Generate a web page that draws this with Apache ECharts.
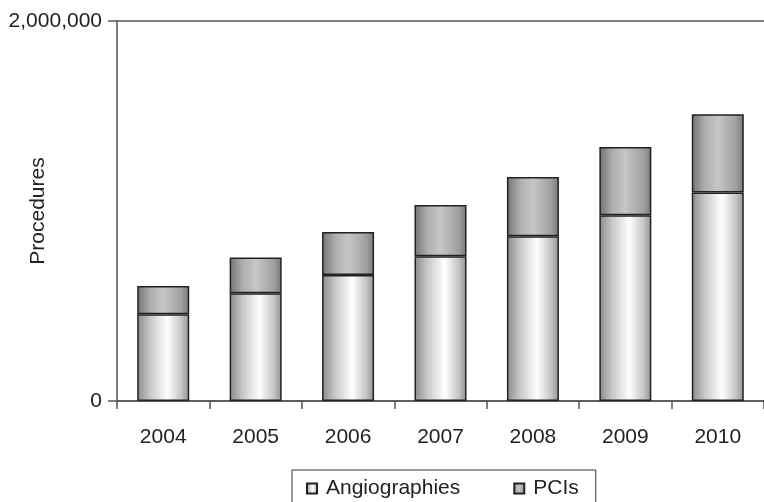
<!DOCTYPE html>
<html>
<head>
<meta charset="utf-8">
<script src="https://cdn.jsdelivr.net/npm/echarts@6/dist/echarts.min.js"></script>
<style>html,body{margin:0;padding:0;background:#fff}#c{width:764px;height:502px}</style>
</head>
<body>
<div id="c"></div>
<script>
const years = ['2004','2005','2006','2007','2008','2009','2010'];
const angiographies = [456000, 567000, 663000, 762000, 867000, 977000, 1098000];
const pcis = [149000, 188000, 226000, 270000, 312000, 360000, 411000];
const yTicks = [0, 2000000];

const font = 'Liberation Sans, Arial, Helvetica, sans-serif';
const angioGrad = {type:'linear',x:0,y:0,x2:1,y2:0,colorStops:[
  {offset:0,color:'#8a8a8a'},{offset:0.25,color:'#c8c8c8'},{offset:0.58,color:'#ffffff'},
  {offset:0.85,color:'#c4c4c4'},{offset:1,color:'#929292'}]};
const pciGrad = {type:'linear',x:0,y:0,x2:1,y2:0,colorStops:[
  {offset:0,color:'#727272'},{offset:0.25,color:'#aeaeb0'},{offset:0.5,color:'#c6c6c9'},
  {offset:0.85,color:'#a0a0a0'},{offset:1,color:'#787878'}]};

const chart = echarts.init(document.getElementById('c'), null, {renderer:'canvas'});
chart.setOption({
  animation:false,
  backgroundColor:'#fff',
  grid:{left:117, top:21, bottom:101, right:-6, containLabel:false},
  legend:{
    left:292, top:470,
    padding:[8,17,12,14],
    borderColor:'#333', borderWidth:1,
    itemWidth:10, itemHeight:10, itemGap:53,
    icon:'rect',
    textStyle:{fontFamily:font, fontSize:21, color:'#222', padding:[0,0,0,4]},
    data:['Angiographies','PCIs']
  },
  xAxis:{
    type:'category', data:years,
    axisLine:{lineStyle:{color:'#555', width:1.5}},
    axisTick:{show:true, alignWithLabel:false, length:8, lineStyle:{color:'#555', width:1.5}},
    axisLabel:{fontFamily:font, fontSize:21, color:'#222', margin:26}
  },
  yAxis:{
    type:'value', min:yTicks[0], max:yTicks[yTicks.length-1], interval:2000000,
    name:'Procedures', nameLocation:'middle', nameRotate:90, nameGap:68,
    nameMoveOverlap:false,
    nameTextStyle:{fontFamily:font, fontSize:21, color:'#222'},
    axisLine:{show:true, lineStyle:{color:'#555', width:1.5}},
    axisTick:{show:true, length:9, lineStyle:{color:'#555', width:1.5}},
    axisLabel:{fontFamily:font, fontSize:21, color:'#222', margin:15,
      formatter:v=>v.toLocaleString('en-US')},
    splitLine:{show:true, lineStyle:{color:'#555', width:1.5}}
  },
  series:[
    {name:'Angiographies', type:'bar', stack:'t', data:angiographies, barWidth:52,
     itemStyle:{color:angioGrad, borderColor:'#222', borderWidth:1.5}},
    {name:'PCIs', type:'bar', stack:'t', data:pcis, barWidth:52,
     itemStyle:{color:pciGrad, borderColor:'#222', borderWidth:1.5}}
  ]
});
</script>
</body>
</html>
